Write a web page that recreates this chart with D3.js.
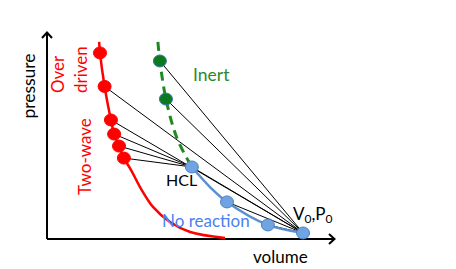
<!DOCTYPE html>
<html><head><meta charset="utf-8">
<script src="https://cdn.jsdelivr.net/npm/d3@7"></script>
<style>html,body{margin:0;padding:0;background:#fff;}svg{display:block;font-family:Lato,"Open Sans",sans-serif;}</style>
</head><body><svg id="c" width="456" height="269"></svg>
<script>
// Data (volume, pressure) in arbitrary units 0..100
const detonationCurveV = [18.1, 18.4, 20.0, 22.2, 23.3, 25.0, 26.7, 29.2, 32.3, 36.8, 42.7, 49.7, 61.8];
const detonationCurveP = [95.2, 89.9, 73.7, 57.5, 50.7, 44.9, 39.1, 33.3, 25.1, 15.5, 8.2, 3.4, 0.5];
const detonationPtsV = [18.4, 20.0, 22.2, 23.3, 25.0, 26.7];
const detonationPtsP = [89.9, 73.7, 57.5, 50.7, 44.9, 39.1];
const inertCurveV = [38.5, 39.2, 41.3, 45.1, 49.3];
const inertCurveP = [95.2, 86.0, 67.6, 48.8, 37.2];
const inertPtsV = [39.2, 41.3];
const inertPtsP = [86.0, 67.6];
const noReactCurveV = [50.3, 52.1, 56.6, 62.5, 76.7, 88.9];
const noReactCurveP = [34.8, 31.9, 25.1, 17.9, 6.8, 2.9];
const noReactPtsV = [50.3, 62.5, 76.7, 88.9];
const noReactPtsP = [34.8, 17.9, 6.8, 2.9];
const HCL = [50.3, 34.8];
const V0P0 = [88.9, 2.9];
// Rayleigh lines: [from, to]
const raysFromV0 = [[39.2, 86.0], [41.3, 67.6], [20.0, 73.7], [22.2, 57.5], [50.3, 34.8], [62.5, 17.9], [76.7, 6.8]];
const raysFromHCL = [[23.3, 50.7], [25.0, 44.9], [26.7, 39.1]];

const svg = d3.select("#c");
const x = d3.scaleLinear().domain([0, 100]).range([47, 335]);
const y = d3.scaleLinear().domain([0, 100]).range([239, 32]);
const zip = (a, b) => a.map((v, i) => [v, b[i]]);
const line = d3.line().x(d => x(d[0])).y(d => y(d[1]));

// Axes
const ax = svg.append("g").attr("stroke", "#000").attr("stroke-width", 2).attr("fill", "none");
ax.append("line").attr("x1", x(0)).attr("y1", y(0)).attr("x2", x(0)).attr("y2", y(100));
ax.append("line").attr("x1", x(0)).attr("y1", y(0)).attr("x2", x(100)).attr("y2", y(0));
ax.append("path").attr("d", `M${x(0)-5},${y(100)+6}L${x(0)},${y(100)+0.5}L${x(0)+5},${y(100)+6}`).attr("stroke-linejoin","miter");
ax.append("path").attr("d", `M${x(100)-6},${y(0)-5}L${x(100)-0.5},${y(0)}L${x(100)-6},${y(0)+5}`).attr("stroke-linejoin","miter");

// Rayleigh lines
const rays = svg.append("g").attr("stroke", "#000").attr("stroke-width", 1);
raysFromV0.forEach(p => rays.append("line").attr("x1", x(V0P0[0])).attr("y1", y(V0P0[1])).attr("x2", x(p[0])).attr("y2", y(p[1])));
raysFromHCL.forEach(p => rays.append("line").attr("x1", x(HCL[0])).attr("y1", y(HCL[1])).attr("x2", x(p[0])).attr("y2", y(p[1])));

// Curves
svg.append("path").attr("d", line.curve(d3.curveCatmullRom)(zip(detonationCurveV, detonationCurveP)))
  .attr("fill", "none").attr("stroke", "#ff0000").attr("stroke-width", 2.5);
svg.append("path").attr("d", line.curve(d3.curveCatmullRom)(zip(inertCurveV, inertCurveP)))
  .attr("fill", "none").attr("stroke", "#1f8a1f").attr("stroke-width", 3).attr("stroke-dasharray", "9,6");
svg.append("path").attr("d", line.curve(d3.curveCatmullRom)(zip(noReactCurveV, noReactCurveP)))
  .attr("fill", "none").attr("stroke", "#5a8fd0").attr("stroke-width", 2.5);

// Markers
function dots(vs, ps, fill, stroke) {
  svg.append("g").selectAll("ellipse").data(zip(vs, ps)).join("ellipse")
    .attr("cx", d => x(d[0])).attr("cy", d => y(d[1])).attr("rx", 6.5).attr("ry", 6)
    .attr("fill", fill).attr("stroke", stroke).attr("stroke-width", 1);
}
dots(detonationPtsV, detonationPtsP, "#ff0000", "#ff0000");
dots(inertPtsV, inertPtsP, "#0a7a1e", "#3f6fae");
dots(noReactPtsV, noReactPtsP, "#6fa3e2", "#4f81bd");

// Text
const t = (s, tx, ty, col, size, rot, anchor) => svg.append("text").text(s)
  .attr("transform", `translate(${tx},${ty})` + (rot ? " rotate(-90)" : ""))
  .attr("fill", col).attr("font-size", size).attr("text-anchor", anchor || "start");
t("pressure", 35, 86, "#000", 17.5, true, "middle");
t("Over", 64, 93, "#ff0000", 17, true);
t("driven", 87, 93, "#ff0000", 17, true);
t("Two-wave", 91, 195, "#ff0000", 17, true);
t("Inert", 193, 81, "#2a8a2a", 17.5);
t("HCL", 166, 186, "#000", 16);
t("No reaction", 162, 227, "#4b80f0", 17);
t("volume", 253, 263, "#000", 17);
const v = svg.append("text").attr("x", 293).attr("y", 220).attr("font-size", 17).attr("fill", "#000");
v.append("tspan").text("V");
v.append("tspan").text("0").attr("font-size", 12).attr("dy", 3);
v.append("tspan").text(",P").attr("dy", -3);
v.append("tspan").text("0").attr("font-size", 12).attr("dy", 3);
</script></body></html>
